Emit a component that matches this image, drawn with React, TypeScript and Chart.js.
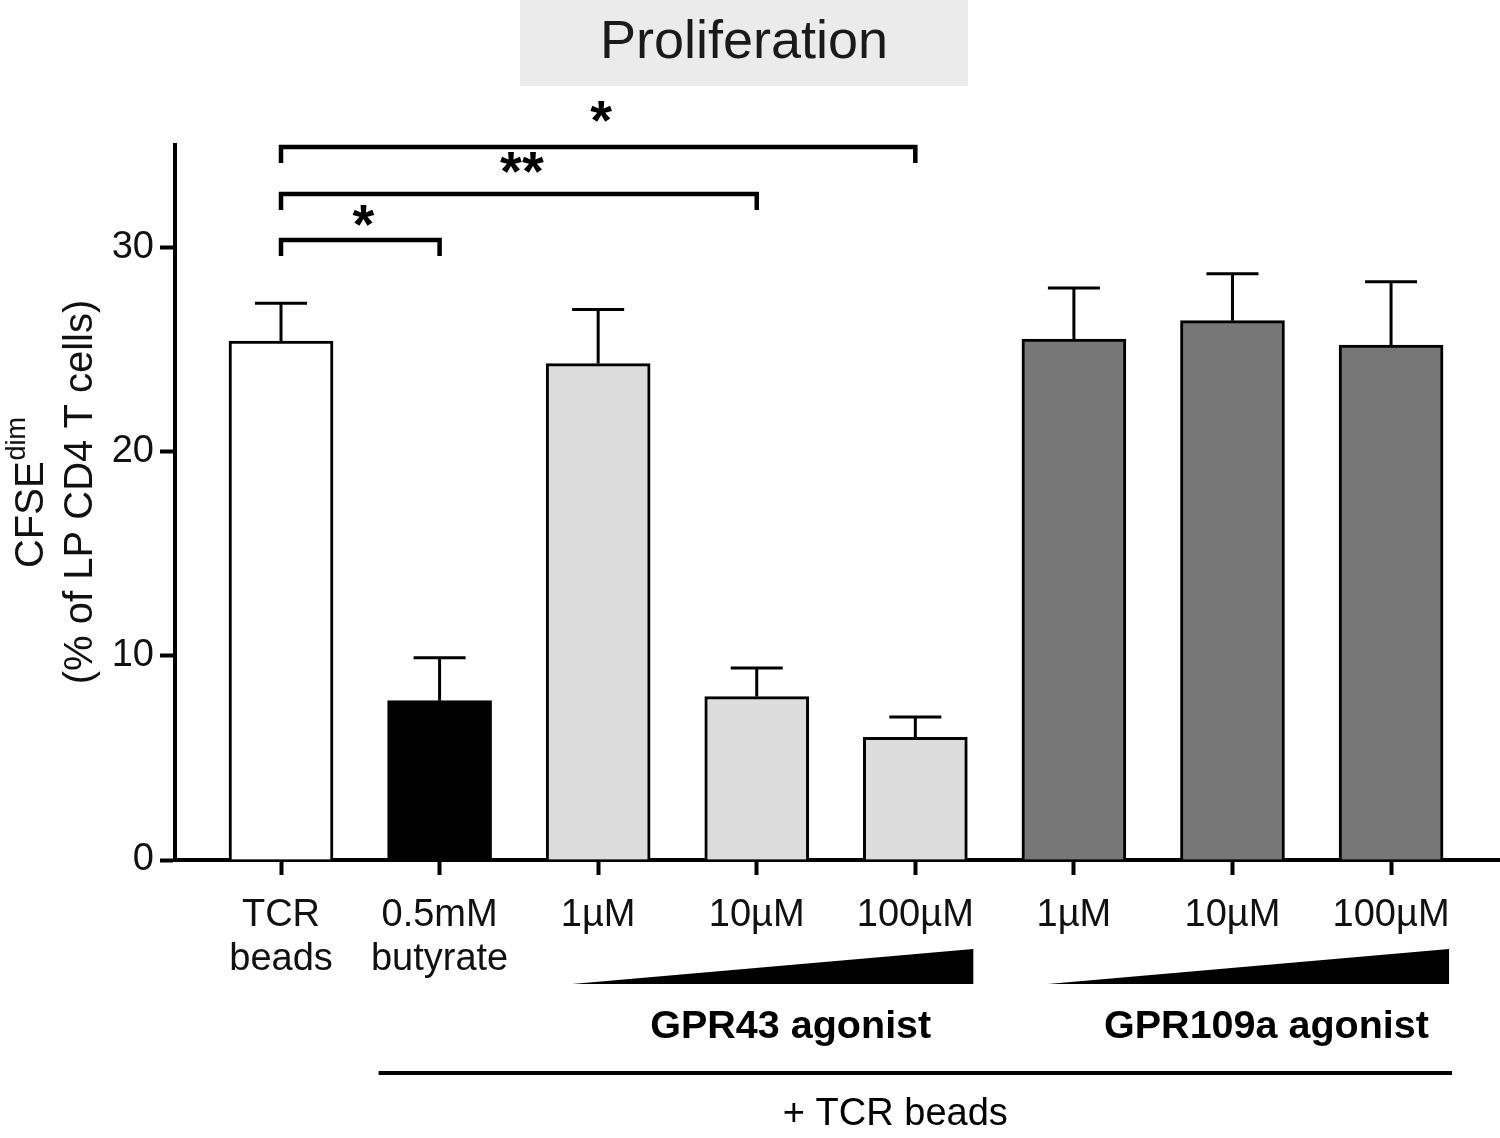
import React, { useEffect, useRef } from 'react';
import { Chart, registerables } from 'chart.js';

Chart.register(...registerables);

const FONT = '"Liberation Sans", Arial, sans-serif';

const titleText = 'Proliferation';
const categoryLabels: string[][] = [
  ['TCR', 'beads'],
  ['0.5mM', 'butyrate'],
  ['1\u00b5M'],
  ['10\u00b5M'],
  ['100\u00b5M'],
  ['1\u00b5M'],
  ['10\u00b5M'],
  ['100\u00b5M'],
];
const meanValues = [25.4, 7.8, 24.3, 8.0, 6.0, 25.5, 26.4, 25.2];
const errorTops = [27.25, 9.9, 26.95, 9.4, 7.0, 28.0, 28.7, 28.3];
const barColors = ['#ffffff', '#000000', '#dcdcdc', '#dcdcdc', '#dcdcdc', '#777777', '#777777', '#777777'];
const yTickValues = [0, 10, 20, 30];
const yMax = 35;

const bracketFrom = [0, 0, 0];
const bracketTo = [1, 3, 4];
const bracketLevel = [30.35, 32.6, 34.9];
const bracketStars = ['*', '**', '*'];

const groupNames = ['GPR43 agonist', 'GPR109a agonist'];
const groupStart = [2, 5];
const groupEnd = [4, 7];
const tcrGroupStart = 1;
const tcrGroupEnd = 7;
const tcrGroupLabel = '+ TCR beads';

const yTitleMain = 'CFSE';
const yTitleSup = 'dim';
const yTitleSecond = '(% of LP CD4 T cells)';

// style: vertical gap (px) between each bracket and its star text
const STAR_GAP = [9, 16, 20];

const annotationPlugin = {
  id: 'annotations',
  afterDatasetsDraw(chart: any) {
    const ctx = chart.ctx;
    const ys = chart.scales.y;
    const meta = chart.getDatasetMeta(0);
    ctx.save();
    ctx.strokeStyle = '#000';
    ctx.lineWidth = 3;
    meta.data.forEach((bar: any, i: number) => {
      const top = ys.getPixelForValue(errorTops[i]);
      ctx.beginPath();
      ctx.moveTo(bar.x, bar.y);
      ctx.lineTo(bar.x, top);
      ctx.moveTo(bar.x - 26, top);
      ctx.lineTo(bar.x + 26, top);
      ctx.stroke();
    });
    ctx.restore();
  },
  afterDraw(chart: any) {
    const ctx = chart.ctx;
    const xs = chart.scales.x;
    const ys = chart.scales.y;
    ctx.save();

    // title box
    ctx.fillStyle = '#ebebeb';
    ctx.fillRect(520, 0, 448, 86);
    ctx.fillStyle = '#1a1a1a';
    ctx.font = `54px ${FONT}`;
    ctx.textAlign = 'center';
    ctx.textBaseline = 'alphabetic';
    ctx.fillText(titleText, 744, 58);

    // brackets
    ctx.strokeStyle = '#000';
    ctx.fillStyle = '#000';
    ctx.lineWidth = 4.5;
    ctx.lineJoin = 'miter';
    bracketFrom.forEach((f, i) => {
      const x1 = xs.getPixelForValue(f);
      const x2 = xs.getPixelForValue(bracketTo[i]);
      const yb = ys.getPixelForValue(bracketLevel[i]);
      ctx.beginPath();
      ctx.moveTo(x1, yb + 16);
      ctx.lineTo(x1, yb);
      ctx.lineTo(x2, yb);
      ctx.lineTo(x2, yb + 16);
      ctx.stroke();
      ctx.font = `bold 56px ${FONT}`;
      ctx.textAlign = 'center';
      ctx.textBaseline = 'alphabetic';
      ctx.fillText(bracketStars[i], (x1 + x2) / 2 + 3, yb - STAR_GAP[i] + 12);
    });

    // wedges + group labels
    groupStart.forEach((s, i) => {
      const xl = xs.getPixelForValue(s) - 26;
      const xr = xs.getPixelForValue(groupEnd[i]) + 58;
      const yb = 984;
      ctx.beginPath();
      ctx.moveTo(xl, yb);
      ctx.lineTo(xr, yb);
      ctx.lineTo(xr, yb - 35);
      ctx.closePath();
      ctx.fill();
      ctx.font = `bold 39.5px ${FONT}`;
      ctx.textAlign = 'center';
      ctx.fillText(groupNames[i], (xl + xr) / 2 + 18, 1038);
    });

    // +TCR beads line
    const lx1 = xs.getPixelForValue(tcrGroupStart) - 61;
    const lx2 = xs.getPixelForValue(tcrGroupEnd) + 61;
    ctx.lineWidth = 4;
    ctx.beginPath();
    ctx.moveTo(lx1, 1073);
    ctx.lineTo(lx2, 1073);
    ctx.stroke();
    ctx.font = `38px ${FONT}`;
    ctx.textAlign = 'center';
    ctx.fillText(tcrGroupLabel, (lx1 + lx2) / 2 - 20, 1125);

    // y title
    ctx.fillStyle = '#111';
    ctx.save();
    ctx.translate(43, 493);
    ctx.rotate(-Math.PI / 2);
    ctx.textAlign = 'left';
    ctx.font = `40px ${FONT}`;
    const w1 = ctx.measureText(yTitleMain).width;
    ctx.font = `27px ${FONT}`;
    const w2 = ctx.measureText(yTitleSup).width;
    const start = -(w1 + w2) / 2;
    ctx.font = `40px ${FONT}`;
    ctx.fillText(yTitleMain, start, 0);
    ctx.font = `27px ${FONT}`;
    ctx.fillText(yTitleSup, start + w1 + 1, -18);
    ctx.restore();
    ctx.save();
    ctx.translate(92, 492);
    ctx.rotate(-Math.PI / 2);
    ctx.textAlign = 'center';
    ctx.font = `40px ${FONT}`;
    ctx.fillText(yTitleSecond, 0, 0);
    ctx.restore();

    ctx.restore();
  },
};

export default function App() {
  const ref = useRef<HTMLCanvasElement>(null);
  useEffect(() => {
    document.body.style.margin = '0';
    const canvas = ref.current!;
    const chart = new Chart(canvas, {
      type: 'bar',
      data: {
        datasets: [
          {
            data: meanValues.map((v, i) => ({ x: i, y: v })),
            backgroundColor: barColors,
            borderColor: '#000',
            borderWidth: 3,
            barThickness: 104,
          },
        ],
      },
      options: {
        responsive: false,
        animation: false,
        devicePixelRatio: 1,
        layout: { padding: { top: 145, left: 0, right: 0, bottom: 0 } },
        plugins: { legend: { display: false }, tooltip: { enabled: false }, title: { display: false } },
        scales: {
          x: {
            type: 'linear',
            offset: false,
            min: -0.6685,
            max: 7.687,
            afterBuildTicks: (scale: any) => {
              scale.ticks = categoryLabels.map((_, i) => ({ value: i }));
            },
            afterFit: (scale: any) => {
              scale.height = 278;
            },
            grid: {
              display: true,
              offset: false,
              drawOnChartArea: false,
              drawTicks: true,
              tickLength: 15,
              tickWidth: 4,
              tickColor: '#000',
            },
            border: { display: true, color: '#000', width: 4 },
            ticks: {
              autoSkip: false,
              maxRotation: 0,
              minRotation: 0,
              padding: 18,
              color: '#111',
              font: { family: FONT, size: 38, lineHeight: 1.16 },
              callback: (value: any) => categoryLabels[Math.round(value)] ?? '',
            },
          },
          y: {
            type: 'linear',
            min: 0,
            max: yMax,
            afterBuildTicks: (scale: any) => {
              scale.ticks = yTickValues.map((v) => ({ value: v }));
            },
            afterFit: (scale: any) => {
              scale.width = 175;
            },
            grid: {
              display: true,
              drawOnChartArea: false,
              drawTicks: true,
              tickLength: 15,
              tickWidth: 4,
              tickColor: '#000',
            },
            border: { display: true, color: '#000', width: 4 },
            ticks: {
              padding: 6,
              color: '#111',
              font: { family: FONT, size: 38 },
            },
          },
        },
      },
      plugins: [annotationPlugin],
    });
    return () => chart.destroy();
  }, []);
  return <canvas ref={ref} width={1500} height={1138} style={{ display: 'block' }} />;
}
